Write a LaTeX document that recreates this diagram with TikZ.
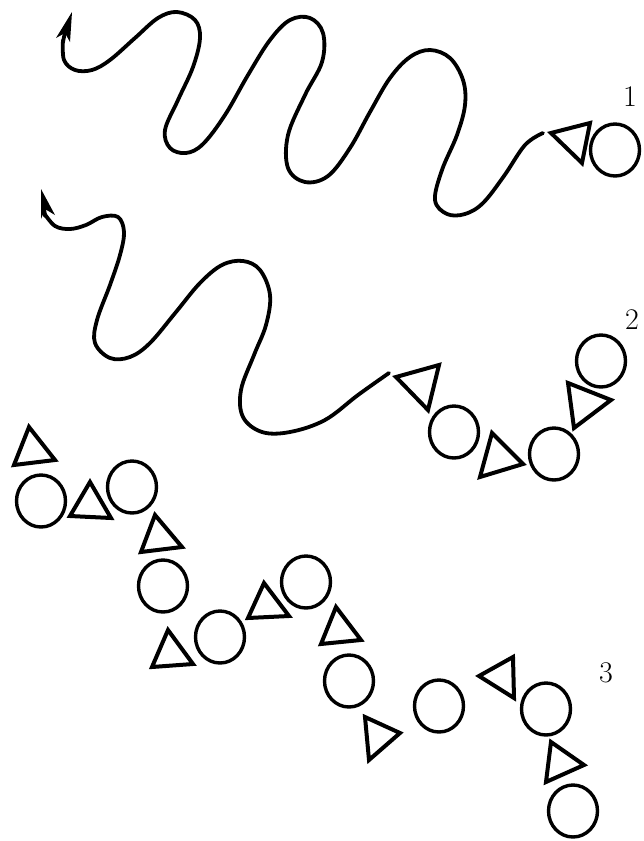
\documentclass[tikz,border=0pt]{standalone}
\usetikzlibrary{arrows.meta,shapes.geometric}
\begin{document}
\begin{tikzpicture}[x=1pt,y=-1pt,
  curve/.style={line width=3.8pt,line cap=round,line join=round},
  tri/.style={line width=4pt,line join=miter},
  bead/.style={draw,ellipse,line width=3.4pt,minimum width=49pt,minimum height=52pt,inner sep=0pt},
  num/.style={font=\fontsize{30}{30}\selectfont,inner sep=0pt}]
\useasboundingbox (0,0) rectangle (643,841);
% curve 1
\draw[curve] plot[smooth,tension=0.6] coordinates {
(63,40) (64,60) (75,70) (92,70) (110,60) (135,38) (158,18) (177,12) (195,20) (200,38) (193,67) (178,100) (165,130) (170,148) (186,153) (203,144) (225,115) (248,75) (270,40) (290,20) (310,18) (323,33) (322,62) (305,95) (288,135) (288,168) (305,182) (328,176) (350,148) (370,112) (390,78) (410,57) (430,50) (450,58) (463,80) (465,105) (457,135) (442,170) (435,200) (447,214) (465,214) (483,203) (504,176) (525,145) (543,133)};
\coordinate (s1) at (63,42);
\coordinate (t1) at (72,12);
\fill (t1) -- (56,38) -- (65,33) -- (70,42) -- cycle;
\draw[curve] (s1) -- (65,32);
% curve 2
\draw[curve] plot[smooth,tension=0.6] coordinates {
(44,213) (55,226) (70,229) (86,225) (102,217) (118,217) (124,232) (120,255) (110,285) (97,320) (95,343) (110,358) (130,357) (150,343) (176,312) (200,283) (222,265) (243,261) (260,270) (270,295) (266,325) (254,355) (241,390) (243,417) (262,432) (290,432) (325,420) (358,395) (389,373)};
\coordinate (s2) at (45,216);
\coordinate (t2) at (41,189);
\fill (t2) -- (41,219) -- (45,209) -- (55,215) -- cycle;
\draw[curve] (s2) -- (44,208);
% group 1
\draw[tri] (551,133) -- (590,123) -- (582,163) -- cycle;
\node[bead] (c1) at (615,150) {};
\node[num] (n1) at (630,97) {1};
% group 2
\draw[tri] (396,377) -- (439,365) -- (428,410) -- cycle;
\node[bead] (c2a) at (454,432) {};
\draw[tri] (492,433) -- (523,464) -- (480,477) -- cycle;
\node[bead] (c2b) at (554,454) {};
\draw[tri] (568,383) -- (611,400) -- (574,428) -- cycle;
\node[bead] (c2c) at (601,361) {};
\node[num] (n2) at (632,320) {2};
% group 3
\draw[tri] (29,427) -- (55,460) -- (14,465) -- cycle;
\node[bead] (c3a) at (41,501) {};
\draw[tri] (90,482) -- (111,518) -- (70,516) -- cycle;
\node[bead] (c3b) at (132,487) {};
\draw[tri] (155,515) -- (182,547) -- (141,552) -- cycle;
\node[bead] (c3c) at (163,586) {};
\draw[tri] (168,630) -- (193,664) -- (152,667) -- cycle;
\node[bead] (c3d) at (220,637) {};
\draw[tri] (264,583) -- (289,616) -- (248,618) -- cycle;
\node[bead] (c3e) at (306,582) {};
\draw[tri] (336,607) -- (361,640) -- (321,644) -- cycle;
\node[bead] (c3f) at (349,681) {};
\draw[tri] (365,717) -- (400,733) -- (369,760) -- cycle;
\node[bead] (c3g) at (439,706) {};
\draw[tri] (479,676) -- (513,657) -- (514,698) -- cycle;
\node[bead] (c3h) at (546,709) {};
\draw[tri] (551,742) -- (584,765) -- (546,782) -- cycle;
\node[bead] (c3i) at (573,811) {};
\node[num] (n3) at (606,673) {3};
\end{tikzpicture}
\end{document}
